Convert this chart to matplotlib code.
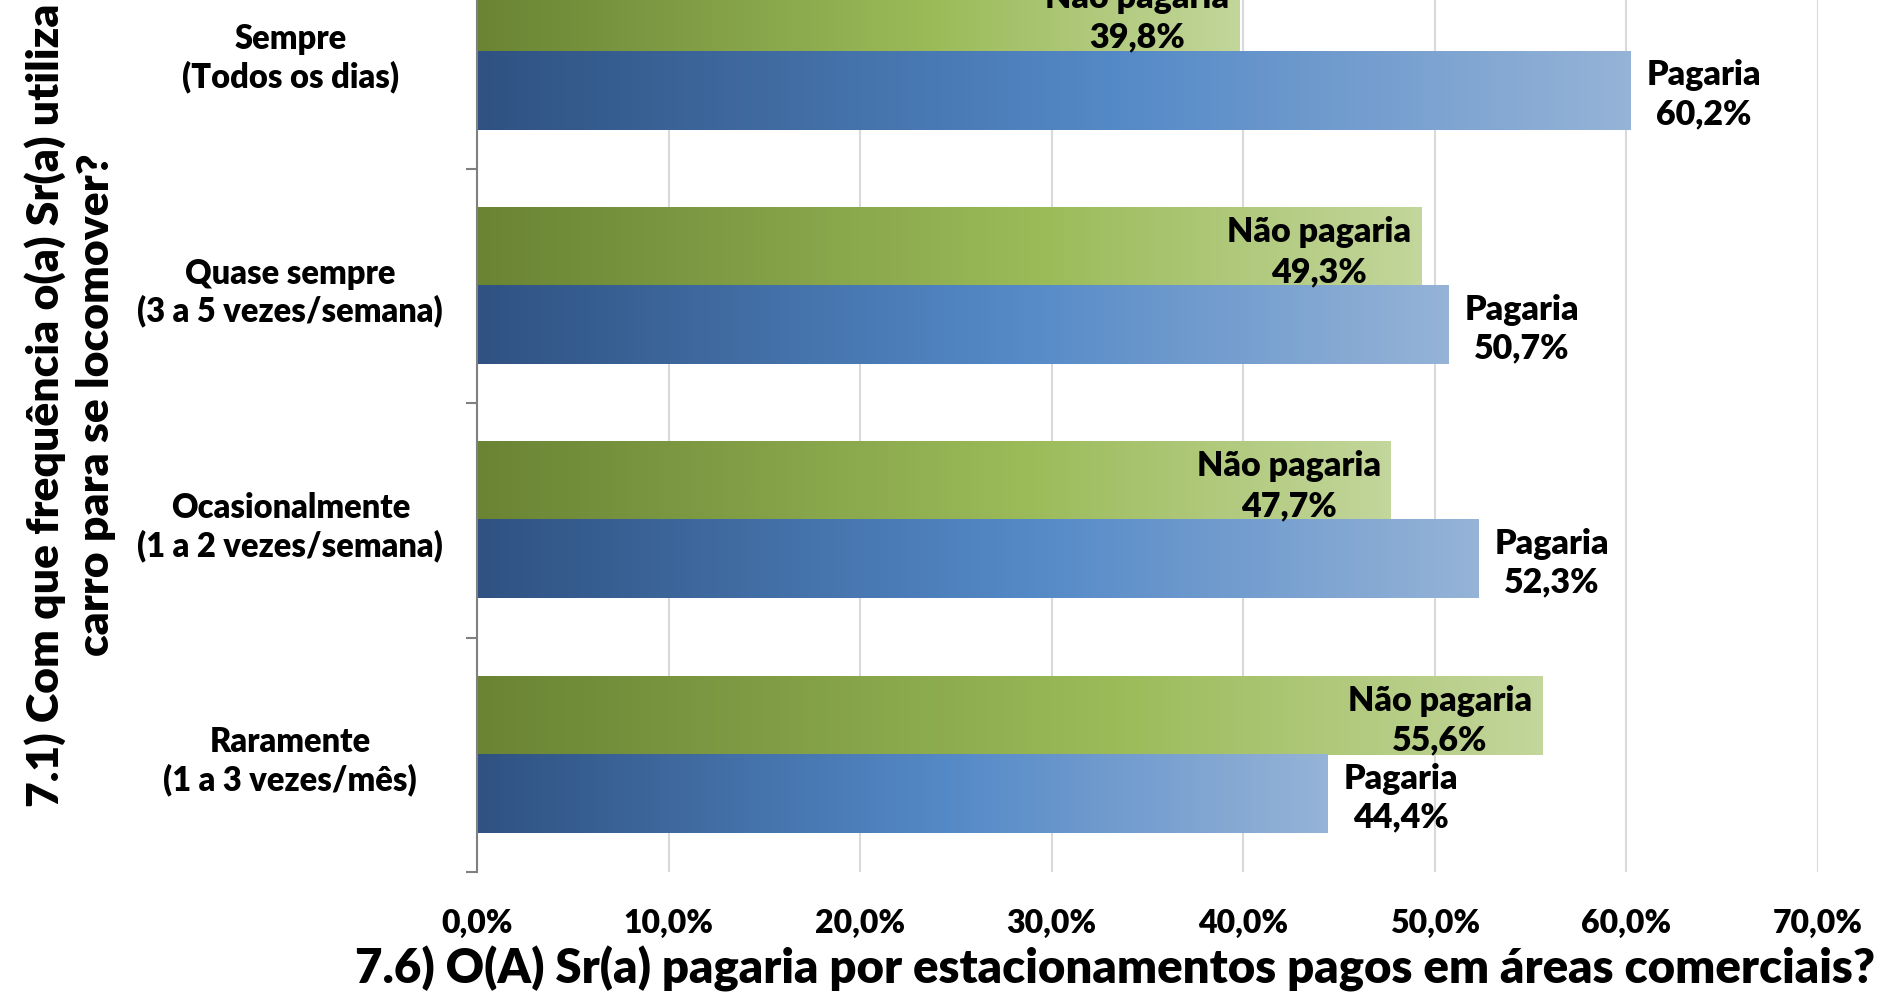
import numpy as np
import matplotlib
matplotlib.use('Agg')
import matplotlib.pyplot as plt
from matplotlib.colors import LinearSegmentedColormap

plt.rcParams['font.family'] = ['Lato', 'DejaVu Sans']
plt.rcParams['font.weight'] = 'heavy'

# Data (bottom to top)
categories = ['Raramente\n(1 a 3 vezes/mês)',
              'Ocasionalmente\n(1 a 2 vezes/semana)',
              'Quase sempre\n(3 a 5 vezes/semana)',
              'Sempre\n(Todos os dias)']
nao_pagaria = [55.6, 47.7, 49.3, 39.8]
pagaria = [44.4, 52.3, 50.7, 60.2]
xticks = [0, 10, 20, 30, 40, 50, 60, 70]

green_cmap = LinearSegmentedColormap.from_list(
    'g', [(0, '#6A8434'), (0.6, '#9BBB59'), (1, '#C3D69B')])
blue_cmap = LinearSegmentedColormap.from_list(
    'b', [(0, '#2F5282'), (0.55, '#5489C7'), (1, '#95B3D7')])

fig = plt.figure(figsize=(18.8, 9.95), dpi=100)
ax = fig.add_axes([0.2537, 0.1226, 0.7133, 0.9423])

h = 0.333
grad = np.linspace(0, 1, 256).reshape(1, -1)
for i, (g, b) in enumerate(zip(nao_pagaria, pagaria)):
    ax.imshow(grad, cmap=green_cmap, extent=(0, g, i, i + h),
              aspect='auto', interpolation='bilinear', zorder=2)
    ax.imshow(grad, cmap=blue_cmap, extent=(0, b, i - h, i),
              aspect='auto', interpolation='bilinear', zorder=2)
    ax.annotate('Não pagaria\n' + f'{g:.1f}%'.replace('.', ','),
                xy=(g, i + h / 2), xytext=(-10, -4), textcoords='offset pixels',
                ha='right', va='center', multialignment='center',
                fontsize=24.5, fontweight='heavy', linespacing=1.3, zorder=3)
    ax.annotate('Pagaria\n' + f'{b:.1f}%'.replace('.', ','),
                xy=(b, i - h / 2), xytext=(16, -3), textcoords='offset pixels',
                ha='left', va='center', multialignment='center',
                fontsize=24.5, fontweight='heavy', linespacing=1.25, zorder=3)

ax.set_xlim(0, 70)
ax.set_ylim(-0.5, 3.5)
ax.set_xticks(xticks)
ax.set_xticklabels([f'{x:.1f}%'.replace('.', ',') for x in xticks],
                   fontsize=23, fontweight='heavy')
ax.tick_params(axis='x', length=0, pad=26)
ax.grid(axis='x', color='#D9D9D9', linewidth=1.5, zorder=0)
ax.set_axisbelow(True)

ax.set_yticks([-0.5, 0.5, 1.5, 2.5, 3.5])
ax.set_yticklabels([])
ax.tick_params(axis='y', which='major', length=8, width=1.5, color='#808080')
ax.set_yticks([0, 1, 2, 3], minor=True)
ax.set_yticklabels(categories, minor=True, fontsize=23.5, fontweight='heavy',
                   multialignment='center', linespacing=1.2)
ax.tick_params(axis='y', which='minor', length=0, pad=32)
for lbl in ax.get_yticklabels(minor=True):
    lbl.set_horizontalalignment('center')
    lbl.set_x(-0.106)

for s in ['top', 'right', 'bottom']:
    ax.spines[s].set_visible(False)
ax.spines['left'].set_color('#808080')
ax.spines['left'].set_linewidth(1.5)

fig.text(1115 / 1880, 1 - 969 / 995,
         '7.6) O(A) Sr(a) pagaria por estacionamentos pagos em áreas comerciais?',
         ha='center', va='center', fontsize=34, fontweight='heavy')
fig.text(70 / 1880, 1 - 405 / 995,
         '7.1) Com que frequência o(a) Sr(a) utiliza\ncarro para se locomover?',
         ha='center', va='center', rotation=90, fontsize=32, fontweight='heavy',
         multialignment='center', linespacing=1.3)

fig.savefig('out.png', dpi=100)
